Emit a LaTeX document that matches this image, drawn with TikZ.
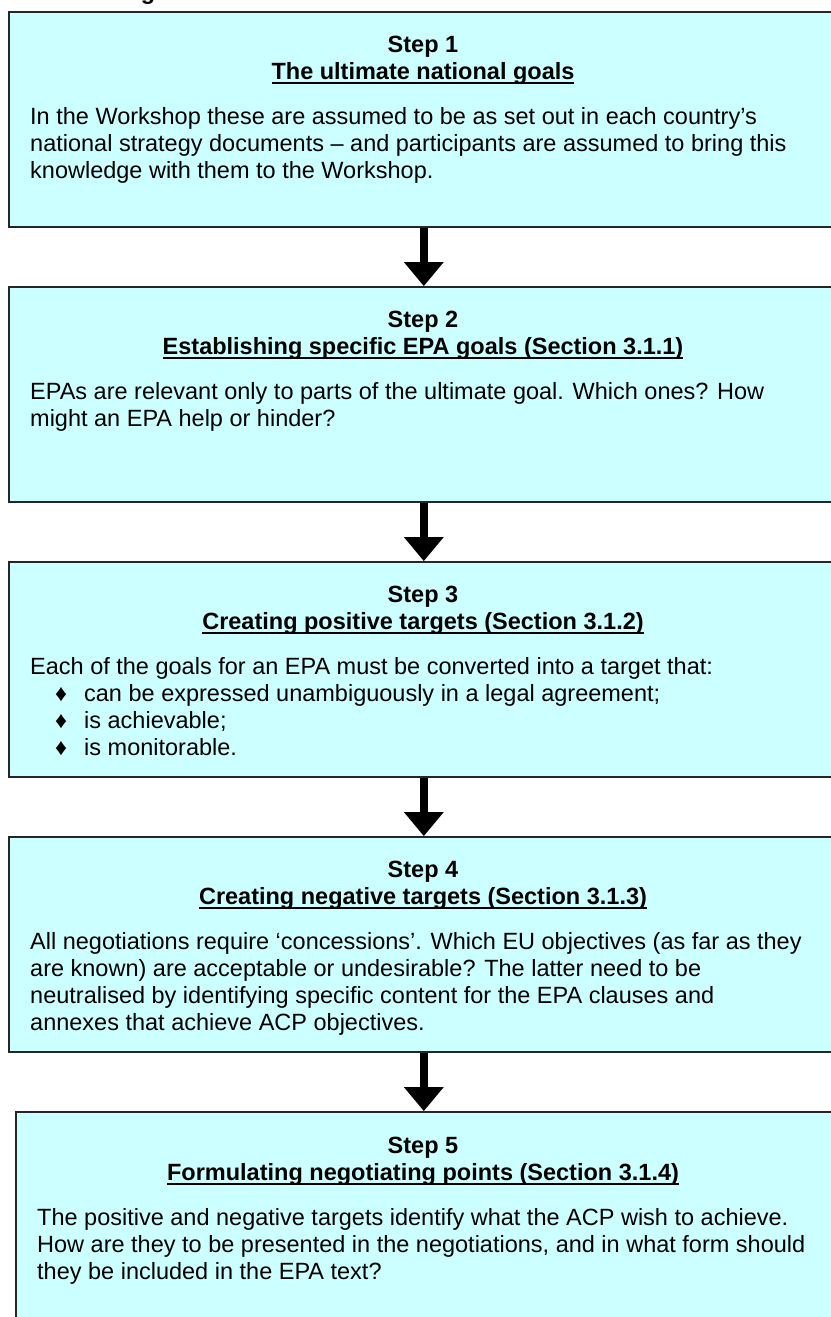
\documentclass[tikz,border=0pt]{standalone}
\usepackage{fontspec}
\setmainfont{Liberation Sans}
\usetikzlibrary{calc}
\definecolor{boxfill}{HTML}{CCFFFF}
\newcommand{\bodysize}{\fontsize{23.5}{27}\selectfont}
\newcommand{\myul}[1]{\setbox0\hbox{#1}\rlap{\rule[-4.5pt]{\wd0}{2pt}}\box0}
\newcommand{\bul}[1]{\hspace*{25pt}\makebox[29pt][l]{\char"2666}#1}
\begin{document}
\begin{tikzpicture}[x=1pt,y=-1pt,
  stepbox/.style={draw=black!85, line width=1.6pt, fill=boxfill, anchor=north west,
    inner sep=0pt, minimum width=830pt, minimum height=215pt},
  head/.style={font=\bfseries\bodysize, anchor=base, inner sep=0pt},
  body/.style={font=\bodysize, anchor=base west, inner sep=0pt},
  shaft/.style={line width=8pt},
  tiphead/.style={fill=black}]
\useasboundingbox (0,0) rectangle (830,1317);

% cut-off heading fragment at the top
\node[font=\bfseries\bodysize, anchor=base, inner sep=0pt] (frag) at (148,-1) {g};

% boxes
\node[stepbox] (b1) at (8,11) {};
\node[stepbox] (b2) at (8,286) {};
\node[stepbox] (b3) at (8,561) {};
\node[stepbox] (b4) at (8,836) {};
\node[stepbox, minimum width=820pt] (b5) at (15,1111) {};

% Step 1
\node[head] (s1) at (423,52) {Step 1};
\node[head] (h1) at (423,79) {\myul{The ultimate national goals}};
\node[body] (t1) at (30,124) {\parbox[t]{790pt}{In the Workshop these are assumed to be as set out in each country’s\\
national strategy documents – and participants are assumed to bring this\\
knowledge with them to the Workshop.}};

% Step 2
\node[head] (s2) at (423,327) {Step 2};
\node[head] (h2) at (423,354) {\myul{Establishing specific EPA goals (Section 3.1.1)}};
\node[body] (t2) at (30,399) {\parbox[t]{790pt}{EPAs are relevant only to parts of the ultimate goal. Which ones? How\\
might an EPA help or hinder?}};

% Step 3
\node[head] (s3) at (423,602) {Step 3};
\node[head] (h3) at (423,629) {\myul{Creating positive targets (Section 3.1.2)}};
\node[body] (t3) at (30,674) {\parbox[t]{790pt}{Each of the goals for an EPA must be converted into a target that:\\
\bul{can be expressed unambiguously in a legal agreement;}\\
\bul{is achievable;}\\
\bul{is monitorable.}}};

% Step 4
\node[head] (s4) at (423,877) {Step 4};
\node[head] (h4) at (423,904) {\myul{Creating negative targets (Section 3.1.3)}};
\node[body] (t4) at (30,949) {\parbox[t]{790pt}{All negotiations require ‘concessions’. Which EU objectives (as far as they\\
are known) are acceptable or undesirable? The latter need to be\\
neutralised by identifying specific content for the EPA clauses and\\
annexes that achieve ACP objectives.}};

% Step 5
\node[head] (s5) at (423,1153) {Step 5};
\node[head] (h5) at (423,1180) {\myul{Formulating negotiating points (Section 3.1.4)}};
\node[body] (t5) at (37,1225) {\parbox[t]{790pt}{The positive and negative targets identify what the ACP wish to achieve.\\
How are they to be presented in the negotiations, and in what form should\\
they be included in the EPA text?}};

% arrows (vertical, from each box to the next)
\foreach \a/\b in {b1/b2, b2/b3, b3/b4, b4/b5}{
  \coordinate (tip-\b) at (\a.south |- \b.north);
  \draw[shaft] (\a.south) -- ($(tip-\b)+(0,-23)$);
  \fill[tiphead] ($(tip-\b)+(-20,-24)$) -- (tip-\b) -- ($(tip-\b)+(20,-24)$) -- cycle;
}
\end{tikzpicture}
\end{document}
